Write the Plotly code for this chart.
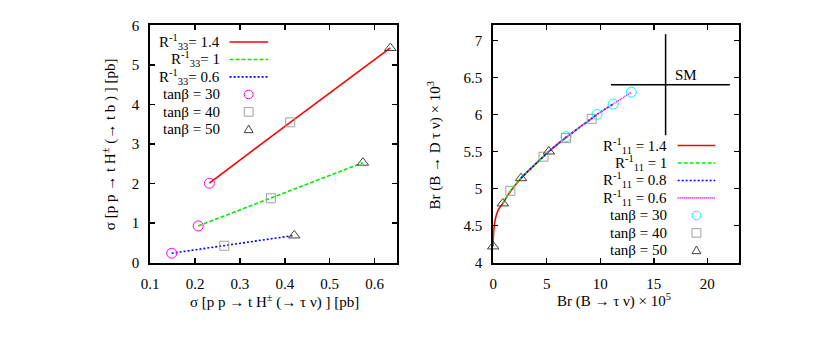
import plotly.graph_objects as go

# ---------------- Left panel data (sigma tau nu vs sigma t b) ----------------
# order in each list: tanb = 30, 40, 50
left_R_labels = ["1.4", "1", "0.6"]
sig_taunu_R14 = [0.232, 0.412, 0.635]
sig_tb_R14 = [2.01, 3.55, 5.43]
sig_taunu_R10 = [0.207, 0.369, 0.574]
sig_tb_R10 = [0.93, 1.63, 2.53]
sig_taunu_R06 = [0.148, 0.265, 0.421]
sig_tb_R06 = [0.24, 0.43, 0.69]

# ---------------- Right panel data (Br(B->tau nu) vs Br(B->D tau nu)) ----------------
right_R_labels = ["1.4", "1", "0.8", "0.6"]
curve_x_R14 = [0.0, 0.02, 0.1, 0.25, 0.5, 0.9, 1.6, 2.6, 3.8, 5.2, 6.8]
curve_y_R14 = [4.22, 4.36, 4.5, 4.62, 4.72, 4.8, 4.96, 5.14, 5.31, 5.5, 5.69]
curve_x_R10 = [0.9, 1.6, 2.6, 3.8, 4.7, 5.2, 6.8, 8.2, 9.7]
curve_y_R10 = [4.8, 4.96, 5.14, 5.31, 5.43, 5.5, 5.69, 5.84, 6.0]
curve_x_R08 = [2.6, 3.8, 5.2, 6.8, 8.2, 9.7, 11.2]
curve_y_R08 = [5.14, 5.31, 5.5, 5.69, 5.84, 6.0, 6.14]
curve_x_R06 = [5.2, 6.8, 8.2, 9.2, 9.7, 11.2, 12.9]
curve_y_R06 = [5.5, 5.69, 5.84, 5.94, 6.0, 6.14, 6.3]

# markers: one value per R (1.4, 1, 0.8, 0.6)
tb30_x = [6.8, 9.7, 11.2, 12.9]
tb30_y = [5.70, 6.0, 6.14, 6.30]
tb40_x = [1.6, 4.7, 6.8, 9.2]
tb40_y = [4.97, 5.43, 5.68, 5.94]
tb50_x = [0.0, 0.9, 2.6, 5.2]
tb50_y = [4.22, 4.80, 5.14, 5.50]

# SM point with errors
sm_x = [16.1]
sm_y = [6.4]
sm_xerr_minus = [5.1]
sm_xerr_plus = [6.0]
sm_yerr = [0.68]

W, H = 830, 340
FONT = "Liberation Serif"
FS = 15
RED, GREEN, BLUE, MAG, CYAN = "#ff0000", "#00ee00", "#0000ff", "#ff00ff", "#00ffff"
GRAY, TRI = "#a0a0a0", "#404040"

fig = go.Figure()

# left lines
for xs, ys, col, dash in [(sig_taunu_R14, sig_tb_R14, RED, "solid"),
                          (sig_taunu_R10, sig_tb_R10, GREEN, "4px,2px"),
                          (sig_taunu_R06, sig_tb_R06, BLUE, "2px,2px")]:
    fig.add_trace(go.Scatter(x=xs, y=ys, mode="lines", line=dict(color=col, width=1.6, dash=dash),
                             xaxis="x", yaxis="y", showlegend=False, cliponaxis=False, hoverinfo="skip"))
# left markers
for idx, sym, col, sz in [(0, "circle-open", MAG, 10), (1, "square-open", GRAY, 9), (2, "triangle-up-open", TRI, 10)]:
    fig.add_trace(go.Scatter(
        x=[sig_taunu_R14[idx], sig_taunu_R10[idx], sig_taunu_R06[idx]],
        y=[sig_tb_R14[idx], sig_tb_R10[idx], sig_tb_R06[idx]],
        mode="markers", marker=dict(symbol=sym, size=sz, color=col, line=dict(width=1, color=col)),
        xaxis="x", yaxis="y", showlegend=False, cliponaxis=False, hoverinfo="skip"))

# right curves
for xs, ys, col, dash in [(curve_x_R14, curve_y_R14, RED, "solid"),
                          (curve_x_R10, curve_y_R10, GREEN, "4px,2px"),
                          (curve_x_R08, curve_y_R08, BLUE, "2px,2px"),
                          (curve_x_R06, curve_y_R06, MAG, "1px,1px")]:
    fig.add_trace(go.Scatter(x=xs, y=ys, mode="lines", line=dict(color=col, width=1.6, dash=dash, shape="spline"),
                             xaxis="x2", yaxis="y2", showlegend=False, cliponaxis=False, hoverinfo="skip"))
for xs, ys, sym, col, sz in [(tb30_x, tb30_y, "circle-open", CYAN, 10),
                             (tb40_x, tb40_y, "square-open", GRAY, 9),
                             (tb50_x, tb50_y, "triangle-up-open", TRI, 10)]:
    fig.add_trace(go.Scatter(x=xs, y=ys, mode="markers",
                             marker=dict(symbol=sym, size=sz, color=col, line=dict(width=1, color=col)),
                             xaxis="x2", yaxis="y2", showlegend=False, cliponaxis=False, hoverinfo="skip"))
# SM cross
fig.add_trace(go.Scatter(x=sm_x, y=sm_y, mode="markers", marker=dict(size=1, color="black"),
                         error_x=dict(type="data", symmetric=False, array=sm_xerr_plus, arrayminus=sm_xerr_minus,
                                      color="black", thickness=1.5, width=0),
                         error_y=dict(type="data", array=sm_yerr, color="black", thickness=1.5, width=0),
                         xaxis="x2", yaxis="y2", showlegend=False, hoverinfo="skip"))

def px(x):
    return x / W

def py(y):
    return 1 - y / H

ax_common = dict(showline=True, linecolor="black", linewidth=2, mirror="ticks", ticks="inside",
                 ticklen=5, tickwidth=1.5, tickcolor="black", showgrid=False, zeroline=False,
                 tickfont=dict(family=FONT, size=FS, color="black"), ticklabelstandoff=6)

fig.update_layout(
    width=W, height=H, margin=dict(l=0, r=0, t=0, b=0),
    paper_bgcolor="white", plot_bgcolor="white", showlegend=False,
    font=dict(family=FONT, size=FS, color="black"),
    xaxis=dict(domain=[px(142.7), px(392.3)], range=[0.1, 0.65], dtick=0.1, tick0=0.1, anchor="y", **ax_common),
    yaxis=dict(domain=[py(267.3), py(18.3)], range=[0, 6], dtick=1, anchor="x", **ax_common),
    xaxis2=dict(domain=[px(489.5), px(738.5)], range=[0, 23], dtick=5, tick0=0, anchor="y2", **ax_common),
    yaxis2=dict(domain=[py(267.3), py(18.3)], range=[4, 7.2], dtick=0.5, tick0=4, anchor="x2", **ax_common),
)

ann = []
def text(x, y, s, xanchor="center", angle=0):
    ann.append(dict(x=px(x), y=py(y), xref="paper", yref="paper", text=s, showarrow=False,
                    xanchor=xanchor, yanchor="middle", textangle=angle,
                    font=dict(family=FONT, size=FS, color="black")))

# axis titles
text(268, 308, "σ [p p → t H<sup>±</sup> (→ τ ν) ] [pb]")
text(101, 143, "σ [p p → t H<sup>±</sup> (→ t b ) ] [pb]", angle=-90)
text(612, 307, "Br (B → τ ν) × 10<sup>5</sup>")
text(430, 144, "Br (B → D τ ν) × 10<sup>3</sup>", angle=-90)
text(684, 70, "SM")

shapes = []
def lsample(x0, x1, y, col, dash):
    shapes.append(dict(type="line", xref="paper", yref="paper", x0=px(x0), x1=px(x1), y0=py(y), y1=py(y),
                       line=dict(color=col, width=1.6, dash=dash)))

def msample(x, y, kind, col, r=4.5):
    if kind == "circle":
        shapes.append(dict(type="circle", xref="paper", yref="paper", x0=px(x - r), x1=px(x + r),
                           y0=py(y + r), y1=py(y - r), line=dict(color=col, width=1)))
    elif kind == "square":
        shapes.append(dict(type="rect", xref="paper", yref="paper", x0=px(x - r), x1=px(x + r),
                           y0=py(y + r), y1=py(y - r), line=dict(color=col, width=1)))
    else:
        path = "M {} {} L {} {} L {} {} Z".format(px(x - r), py(y + r - 1), px(x + r), py(y + r - 1), px(x), py(y - r))
        shapes.append(dict(type="path", xref="paper", yref="paper", path=path, line=dict(color=col, width=1)))

# left legend
lrows = [35.7, 54, 72.3, 90.7, 109, 127.3]
for i, (lab, col, dash) in enumerate(zip(left_R_labels, [RED, GREEN, BLUE], ["solid", "4px,2px", "2px,2px"])):
    text(215, lrows[i], "R<sup>-1</sup><sub>33</sub>= " + lab, xanchor="right")
    lsample(223, 262, lrows[i], col, dash)
for j, (tb, kind, col) in enumerate([("30", "circle", MAG), ("40", "square", GRAY), ("50", "tri", TRI)]):
    text(215, lrows[3 + j], "tanβ = " + tb, xanchor="right")
    msample(242.3, lrows[3 + j], kind, col)

# right legend
rrows = [144.3, 162.7, 181, 199.3, 217.7, 236, 254.3]
for i, (lab, col, dash) in enumerate(zip(right_R_labels, [RED, GREEN, BLUE, MAG],
                                         ["solid", "4px,2px", "2px,2px", "1px,1px"])):
    text(667, rrows[i], "R<sup>-1</sup><sub>11</sub> = " + lab, xanchor="right")
    lsample(676, 714, rrows[i], col, dash)
for j, (tb, kind, col) in enumerate([("30", "circle", CYAN), ("40", "square", GRAY), ("50", "tri", TRI)]):
    text(667, rrows[4 + j], "tanβ = " + tb, xanchor="right")
    msample(695, rrows[4 + j], kind, col)

fig.update_layout(annotations=ann, shapes=shapes, hovermode=False)
fig.write_html("out.html", config={"displayModeBar": False, "staticPlot": True},
               post_script="document.body.style.margin='0px';document.body.style.overflow='hidden';")
